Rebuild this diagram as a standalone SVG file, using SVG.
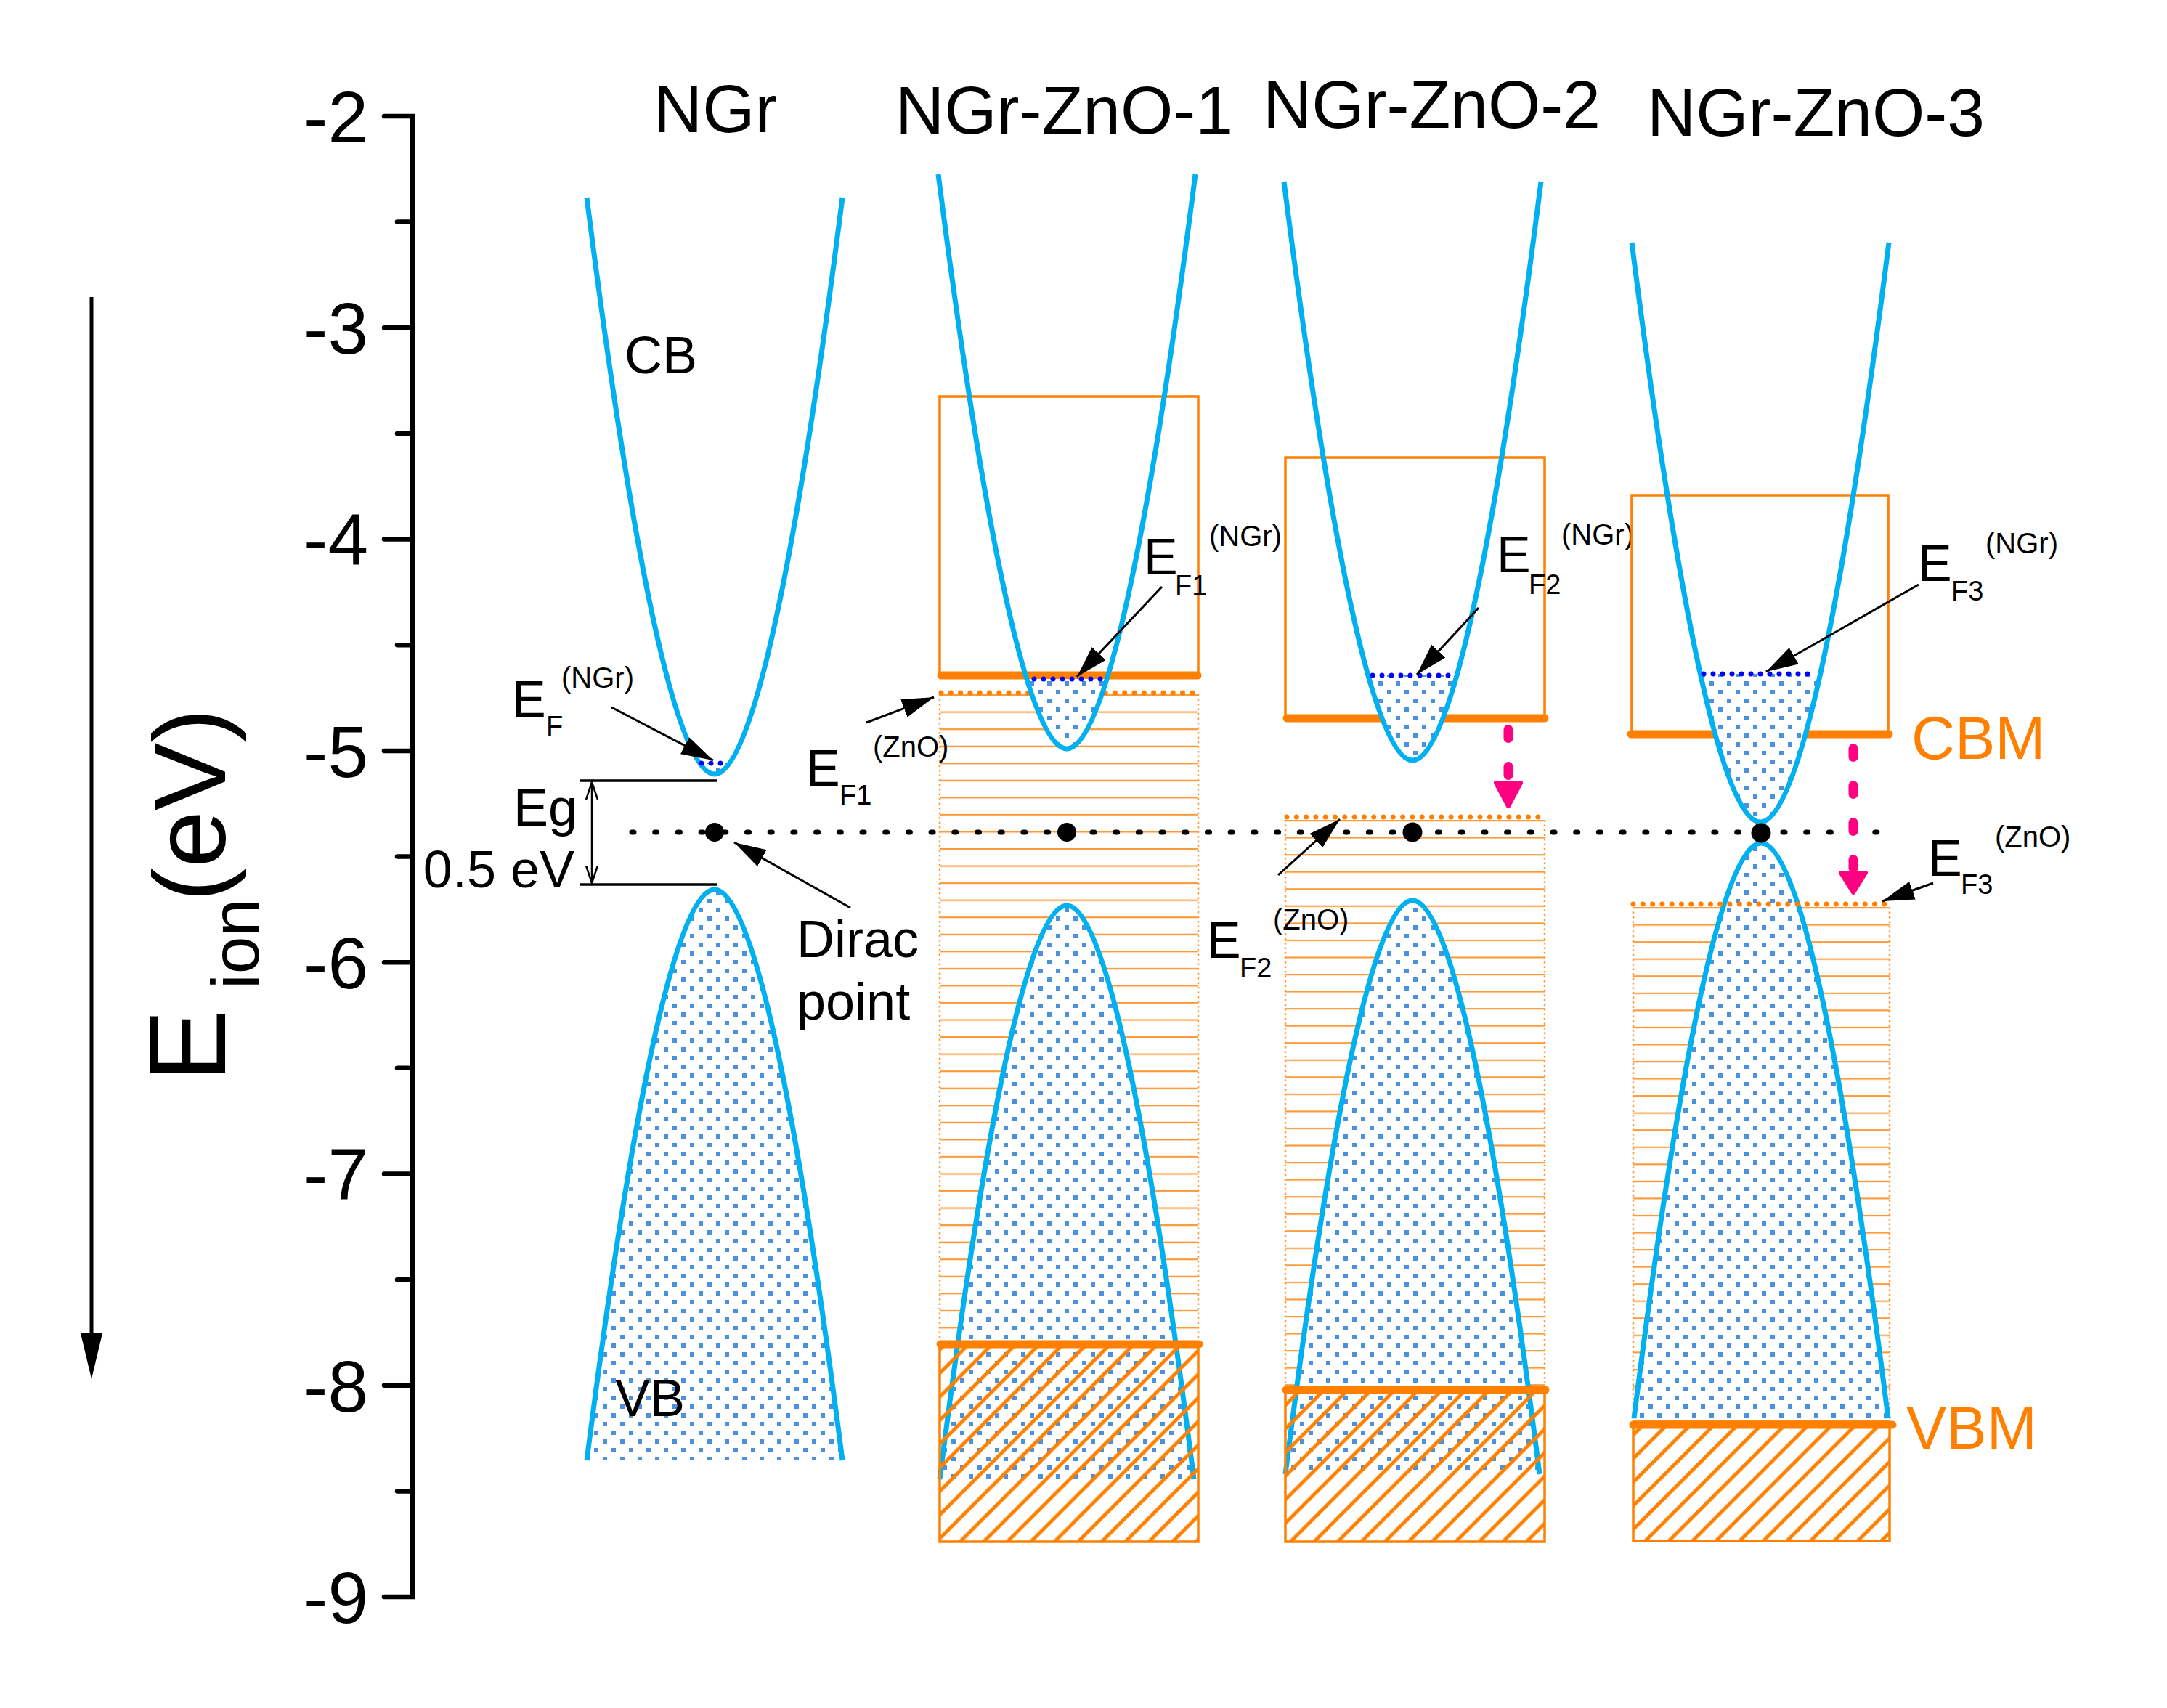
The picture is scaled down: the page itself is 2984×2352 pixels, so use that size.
<svg xmlns="http://www.w3.org/2000/svg" width="2984" height="2352" viewBox="0 0 2984 2352">
<style>
text{font-family:"Liberation Sans",Arial,sans-serif;fill:#000}
.t{font-size:93px}
.ax{font-size:100px;text-anchor:end}
.lb{font-size:72px}
.E{font-size:70px}
.sb{font-size:38px}
.sp{font-size:40px}
.or{fill:#FF8000;font-size:83px}
.cv{fill:none;stroke:#00B0F0;stroke-width:7}
.cf{fill:url(#dots);stroke:none}
.vb{fill:url(#dots);stroke:#00B0F0;stroke-width:7}
.box{fill:none;stroke:#FF8000;stroke-width:3.5}
.thick{stroke:#FF8000;stroke-width:11;stroke-linecap:round}
.efz{stroke:#FF8000;stroke-width:7;stroke-linecap:round;stroke-dasharray:0 13.3}
.efn{stroke:#0000FF;stroke-width:7;stroke-linecap:round;stroke-dasharray:0 13}
.edge{stroke:#FF9933;stroke-width:2.5;stroke-dasharray:2.5 4}
.hat{fill:url(#diag);stroke:#FF8000;stroke-width:3.5}
.ar{stroke:#000;stroke-width:3;fill:none;marker-end:url(#ah)}
.pk{stroke:#FF0080;stroke-width:13;stroke-linecap:round;stroke-dasharray:12 39;fill:none}
.pkh{fill:#FF0080;stroke:#FF0080;stroke-width:6;stroke-linejoin:round}
.dirac{fill:#000}
</style>
<defs>
<pattern id="dots" patternUnits="userSpaceOnUse" width="24" height="24"><rect width="24" height="24" fill="#fff"/><rect x="2" y="2" width="6" height="6" fill="#4A92DE"/><rect x="14" y="14" width="6" height="6" fill="#4A92DE"/></pattern>
<pattern id="diag" patternUnits="userSpaceOnUse" width="32.5" height="32.5"><path d="M-8.125,8.125 L8.125,-8.125 M0,32.5 L32.5,0 M24.375,40.625 L40.625,24.375" stroke="#FF8000" stroke-width="5"/></pattern>
<pattern id="hl1" patternUnits="userSpaceOnUse" x="0" y="956" width="40" height="23.55"><rect width="40" height="2.2" fill="#FF9A3A"/></pattern>
<pattern id="hl2" patternUnits="userSpaceOnUse" x="0" y="1129" width="40" height="23.55"><rect width="40" height="2.2" fill="#FF9A3A"/></pattern>
<pattern id="hl3" patternUnits="userSpaceOnUse" x="0" y="1249" width="40" height="23.55"><rect width="40" height="2.2" fill="#FF9A3A"/></pattern>
<clipPath id="c0"><rect x="700" y="1051" width="600" height="30"/></clipPath>
<clipPath id="c1"><rect x="1200" y="935" width="600" height="110"/></clipPath>
<clipPath id="c2"><rect x="1700" y="930" width="600" height="130"/></clipPath>
<clipPath id="c3"><rect x="2200" y="928" width="600" height="215"/></clipPath>
<marker id="ah" markerUnits="userSpaceOnUse" markerWidth="46" markerHeight="28" refX="44" refY="13" orient="auto" viewBox="0 0 46 28"><path d="M0,0 L44,13 L0,26 z" fill="#000"/></marker>
<marker id="vo" markerUnits="userSpaceOnUse" markerWidth="30" markerHeight="20" refX="24" refY="9" orient="auto-start-reverse" viewBox="0 0 30 20"><path d="M0,1 L24,9 L0,17" fill="none" stroke="#000" stroke-width="2.5"/></marker>
</defs>
<rect width="2984" height="2352" fill="#fff"/>

<g id="axis">
<path d="M529,160 H568 V2199 H529 M529,451.3 H568 M529,742.6 H568 M529,1033.9 H568 M529,1325.2 H568 M529,1616.5 H568 M529,1907.8 H568 M547,305.6 H568 M547,597 H568 M547,888.2 H568 M547,1179.5 H568 M547,1470.8 H568 M547,1762.2 H568 M547,2053.4 H568" fill="none" stroke="#000" stroke-width="6.5" stroke-linecap="round"/>
<text class="ax" x="507" y="196">-2</text>
<text class="ax" x="507" y="487">-3</text>
<text class="ax" x="507" y="778">-4</text>
<text class="ax" x="507" y="1070">-5</text>
<text class="ax" x="507" y="1361">-6</text>
<text class="ax" x="507" y="1652">-7</text>
<text class="ax" x="507" y="1944">-8</text>
<text class="ax" x="507" y="2235">-9</text>
<text transform="translate(310,1490) rotate(-90)" font-size="150">E<tspan font-size="93" dx="28" dy="46">ion</tspan><tspan font-size="141" dx="-4" dy="-46">(eV)</tspan></text>
<line x1="126" y1="409" x2="126" y2="1845" stroke="#000" stroke-width="5"/>
<polygon points="111,1836 141,1836 126,1899" fill="#000"/>
</g>

<g id="panel-ngr">
<text class="t" x="900" y="182">NGr</text>
<path class="vb" d="M808 2011 C 869.6 1529.6 931.2 1225 984 1225 C 1036.8 1225 1098.4 1529.6 1160 2011"/>
<path class="cf" clip-path="url(#c0)" d="M808 272 C 869.6 758.3 931.2 1066 984 1066 C 1036.8 1066 1098.4 758.3 1160 272 Z"/>
<path class="cv" d="M808 272 C 869.6 758.3 931.2 1066 984 1066 C 1036.8 1066 1098.4 758.3 1160 272"/>
<line class="efn" x1="966" y1="1051" x2="1002" y2="1051"/>
<line x1="799" y1="1075" x2="988" y2="1075" stroke="#000" stroke-width="3.5"/>
<line x1="799" y1="1218" x2="988" y2="1218" stroke="#000" stroke-width="3.5"/>
<text class="lb" x="860" y="514">CB</text>
<text class="lb" x="847" y="1950">VB</text>
<text class="lb" x="707" y="1137">Eg</text>
<text class="lb" x="791" y="1222" text-anchor="end" font-size="68">0.5 eV</text>
<text class="lb" x="1097" y="1318">Dirac</text>
<text class="lb" x="1097" y="1404">point</text>
<text><tspan class="E" x="705" y="987">E</tspan><tspan class="sb" x="752" y="1013">F</tspan><tspan class="sp" x="773" y="947">(NGr)</tspan></text>
</g>

<g id="panel-zno1">
<text class="t" x="1233" y="184">NGr-ZnO-1</text>
<rect x="1294" y="956" width="356" height="895" fill="url(#hl1)"/>
<line class="edge" x1="1294" y1="956" x2="1294" y2="1851"/>
<line class="edge" x1="1650" y1="956" x2="1650" y2="1851"/>
<path class="vb" d="M1294 2037 C 1355.25 1553.1 1416.5 1247 1469 1247 C 1521.5 1247 1582.75 1553.1 1644 2037"/>
<rect class="hat" x="1294" y="1851" width="356" height="272"/>
<line class="thick" x1="1295" y1="1851" x2="1651" y2="1851"/>
<rect class="box" x="1294" y="546" width="356" height="384"/>
<line class="thick" x1="1296" y1="930" x2="1649" y2="930"/>
<line class="efz" x1="1296" y1="954" x2="1650" y2="954"/>
<path class="cf" clip-path="url(#c1)" d="M1292 240 C 1353.950 724.5 1415.9 1031 1469 1031 C 1522.1 1031 1584.05 724.5 1646 240 Z"/>
<path class="cv" d="M1292 240 C 1353.95 724.5 1415.9 1031 1469 1031 C 1522.1 1031 1584.05 724.5 1646 240"/>
<line class="efn" x1="1424" y1="935" x2="1516" y2="935"/>
<text><tspan class="E" x="1575" y="791">E</tspan><tspan class="sb" x="1618" y="819">F1</tspan><tspan class="sp" x="1665" y="752">(NGr)</tspan></text>
<text><tspan class="E" x="1110" y="1082">E</tspan><tspan class="sb" x="1156" y="1108">F1</tspan><tspan class="sp" x="1202" y="1042">(ZnO)</tspan></text>
</g>

<g id="panel-zno2">
<text class="t" x="1739" y="176">NGr-ZnO-2</text>
<rect x="1770" y="1129" width="357" height="785" fill="url(#hl2)"/>
<line class="edge" x1="1770" y1="1129" x2="1770" y2="1914"/>
<line class="edge" x1="2127" y1="1129" x2="2127" y2="1914"/>
<path class="vb" d="M1770 2030 C 1831.25 1546.1 1892.5 1240 1945 1240 C 1997.5 1240 2058.75 1546.1 2120 2030"/>
<rect class="hat" x="1770" y="1914" width="357" height="209"/>
<line class="thick" x1="1771" y1="1914" x2="2128" y2="1914"/>
<rect class="box" x="1770" y="630" width="357" height="359"/>
<line class="thick" x1="1772" y1="989" x2="2127" y2="989"/>
<line class="efz" x1="1772" y1="1125" x2="2127" y2="1125"/>
<path class="cf" clip-path="url(#c2)" d="M1768 250 C 1829.95 738.2 1891.9 1047 1945 1047 C 1998.1 1047 2060.05 738.2 2122 250 Z"/>
<path class="cv" d="M1768 250 C 1829.95 738.2 1891.9 1047 1945 1047 C 1998.1 1047 2060.05 738.2 2122 250"/>
<line class="efn" x1="1890" y1="930" x2="2001" y2="930"/>
<text><tspan class="E" x="2061" y="788">E</tspan><tspan class="sb" x="2105" y="818">F2</tspan><tspan class="sp" x="2150" y="750">(NGr)</tspan></text>
<text><tspan class="E" x="1662" y="1319">E</tspan><tspan class="sb" x="1707" y="1346">F2</tspan><tspan class="sp" x="1753" y="1280">(ZnO)</tspan></text>
</g>

<g id="panel-zno3">
<text class="t" x="2268" y="187">NGr-ZnO-3</text>
<rect x="2249" y="1249" width="353" height="713" fill="url(#hl3)"/>
<line class="edge" x1="2249" y1="1249" x2="2249" y2="1962"/>
<line class="edge" x1="2602" y1="1249" x2="2602" y2="1962"/>
<path class="vb" d="M2250 1953 C 2311.25 1467.9 2372.5 1161 2425 1161 C 2477.5 1161 2538.75 1467.9 2600 1953"/>
<rect class="hat" x="2249" y="1962" width="353" height="160"/>
<line class="thick" x1="2249" y1="1962" x2="2606" y2="1962"/>
<rect class="box" x="2247" y="682" width="353" height="329"/>
<line class="thick" x1="2246" y1="1011" x2="2601" y2="1011"/>
<line class="efz" x1="2249" y1="1245" x2="2600" y2="1245"/>
<path class="cf" clip-path="url(#c3)" d="M2247 334 C 2308.95 822.8 2370.9 1132 2424 1132 C 2477.1 1132 2539.05 822.8 2601 334 Z"/>
<path class="cv" d="M2247 334 C 2308.95 822.8 2370.9 1132 2424 1132 C 2477.1 1132 2539.05 822.8 2601 334"/>
<line class="efn" x1="2346" y1="928" x2="2502" y2="928"/>
<text class="or" x="2632" y="1045">CBM</text>
<text class="or" x="2625" y="1995">VBM</text>
<text><tspan class="E" x="2641" y="800">E</tspan><tspan class="sb" x="2687" y="827">F3</tspan><tspan class="sp" x="2734" y="762">(NGr)</tspan></text>
<text><tspan class="E" x="2655" y="1206">E</tspan><tspan class="sb" x="2700" y="1231">F3</tspan><tspan class="sp" x="2747" y="1166">(ZnO)</tspan></text>
</g>

<g id="dirac-points">
<line x1="870" y1="1146" x2="2590" y2="1146" stroke="#000" stroke-width="7" stroke-linecap="round" stroke-dasharray="3 28.7"/>
<circle class="dirac" cx="984" cy="1146" r="13"/>
<circle class="dirac" cx="1469" cy="1146" r="13"/>
<circle class="dirac" cx="1945" cy="1146" r="13.5"/>
<circle class="dirac" cx="2425" cy="1147" r="13.5"/>
</g>

<g id="connectors">
<line x1="815" y1="1077" x2="815" y2="1216" stroke="#000" stroke-width="2.5" marker-start="url(#vo)" marker-end="url(#vo)"/>
<line class="ar" x1="842" y1="974" x2="982" y2="1047"/>
<line class="ar" x1="1171" y1="1250" x2="1011" y2="1160"/>
<line class="ar" x1="1600" y1="808" x2="1483" y2="932"/>
<line class="ar" x1="1193" y1="995" x2="1286" y2="960"/>
<line class="ar" x1="2036" y1="837" x2="1951" y2="929"/>
<line class="ar" x1="1760" y1="1205" x2="1845" y2="1128"/>
<line class="ar" x1="2642" y1="805" x2="2432" y2="925"/>
<line class="ar" x1="2662" y1="1216" x2="2592" y2="1241"/>
<line class="pk" x1="2077" y1="1004.5" x2="2077" y2="1068"/>
<polygon class="pkh" points="2060,1078 2094,1078 2077,1110"/>
<line class="pk" x1="2552" y1="1030.5" x2="2552" y2="1196"/>
<polygon class="pkh" points="2535,1202 2569,1202 2552,1229"/>
</g>
</svg>
